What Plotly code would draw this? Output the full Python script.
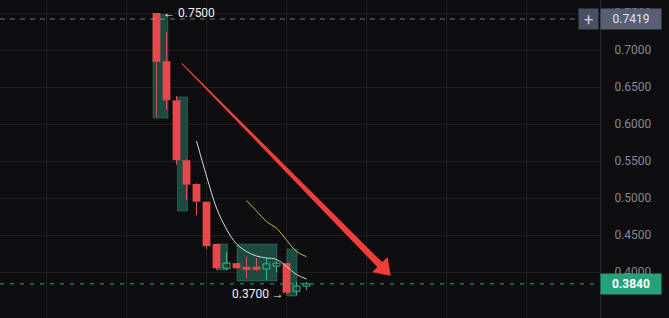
import math
import plotly.graph_objects as go

# ---------------- data ----------------
IDX = list(range(16))
OPEN = [0.750, 0.685, 0.632, 0.551, 0.519, 0.495, 0.438, 0.405, 0.412, 0.407, 0.407, 0.404, 0.408, 0.412, 0.374, 0.381]
HIGH = [0.750, 0.724, 0.638, 0.553, 0.520, 0.495, 0.438, 0.427, 0.412, 0.420, 0.419, 0.419, 0.415, 0.412, 0.3865, 0.3865]
LOW = [0.610, 0.619, 0.545, 0.497, 0.477, 0.431, 0.403, 0.403, 0.405, 0.392, 0.401, 0.389, 0.400, 0.370, 0.369, 0.3757]
CLOSE = [0.684, 0.632, 0.551, 0.518, 0.495, 0.435, 0.405, 0.412, 0.405, 0.403, 0.403, 0.411, 0.412, 0.372, 0.381, 0.384]

# higher-timeframe boxes
BOX_X = [0.4, 2.6, 6.55, 10.05, 13.55]
BOX_W = [1.5, 1.0, 1.1, 4.0, 1.0]
BOX_TOP = [0.748, 0.6365, 0.4378, 0.4378, 0.431]
BOX_BOT = [0.608, 0.4824, 0.4027, 0.3878, 0.3676]

# moving averages
MA_W_X = [4, 5, 6, 7, 8, 9, 10, 11, 12, 13, 14, 15]
MA_W = [0.577, 0.5297, 0.4865, 0.458, 0.438, 0.4277, 0.4216, 0.419, 0.417, 0.4074, 0.3966, 0.3905]
MA_Y_X = [9, 10, 11, 12, 13, 14, 15]
MA_Y = [0.4966, 0.4824, 0.4682, 0.4591, 0.4432, 0.4277, 0.4207]

Y_TICKS = [0.40, 0.45, 0.50, 0.55, 0.60, 0.65, 0.70, 0.75]
HIGH_LABEL = (0, 0.75, "← 0.7500")
LOW_LABEL = (13, 0.37, "0.3700 →")
CROSS_PRICE = 0.7419
LAST_PRICE = 0.384
ARROW_START = (2.52, 0.682)
ARROW_TIP = (23.42, 0.395)

# ---------------- style ----------------
W, H = 669, 318
PLOT_W, PLOT_H = 600, 318
XMIN, XMAX = -15.65, 44.35
YMIN, YMAX = 0.7 - 268 / 740, 0.7 + 50 / 740
BG = "#0d0d0f"
GRID = "#1e1e22"
RED = "#e5484d"
GREEN = "#2ebd85"
BOX_COLOR = "#1c4a40"
FONT = "Roboto, 'Noto Sans', sans-serif"

PXX = PLOT_W / (XMAX - XMIN)
PXY = PLOT_H / (YMAX - YMIN)

fig = go.Figure()

# big translucent boxes
fig.add_trace(go.Bar(
    x=BOX_X, y=[t - b for t, b in zip(BOX_TOP, BOX_BOT)], base=BOX_BOT, width=BOX_W,
    marker=dict(color=BOX_COLOR, line=dict(color="rgba(60,170,130,0.35)", width=1)),
    hoverinfo="skip", showlegend=False))

# wicks
def wick_xy(up):
    xs, ys = [], []
    for i, o, h, l, c in zip(IDX, OPEN, HIGH, LOW, CLOSE):
        if (c >= o) != up:
            continue
        lo, hi = min(o, c), max(o, c)
        xs += [i, i, None, i, i, None]
        ys += [l, lo, None, hi, h, None]
    return xs, ys

for up, col in ((False, RED), (True, GREEN)):
    xs, ys = wick_xy(up)
    fig.add_trace(go.Scatter(x=xs, y=ys, mode="lines", line=dict(color=col, width=1),
                             hoverinfo="skip", showlegend=False))

# bodies
MIN_H = 1.5 / PXY
dn = [i for i in IDX if CLOSE[i] < OPEN[i]]
up = [i for i in IDX if CLOSE[i] >= OPEN[i]]
fig.add_trace(go.Bar(
    x=dn, base=[min(OPEN[i], CLOSE[i]) for i in dn],
    y=[max(abs(OPEN[i] - CLOSE[i]), MIN_H) for i in dn], width=0.78,
    marker=dict(color=RED, line=dict(width=0)), hoverinfo="skip", showlegend=False))
fig.add_trace(go.Bar(
    x=up, base=[min(OPEN[i], CLOSE[i]) for i in up],
    y=[max(abs(OPEN[i] - CLOSE[i]), MIN_H) for i in up], width=0.7,
    marker=dict(color="rgba(0,0,0,0)", line=dict(color=GREEN, width=1)),
    hoverinfo="skip", showlegend=False))

# moving averages
fig.add_trace(go.Scatter(x=MA_W_X, y=MA_W, mode="lines",
                         line=dict(color="#d8d8dc", width=1, shape="spline"),
                         hoverinfo="skip", showlegend=False))
fig.add_trace(go.Scatter(x=MA_Y_X, y=MA_Y, mode="lines",
                         line=dict(color="#cdbb2c", width=1, shape="spline"),
                         hoverinfo="skip", showlegend=False))

# tapered arrow (built in pixel space, converted to data units)
def to_px(x, y):
    return ((x - XMIN) * PXX, (YMAX - y) * PXY)

def to_data(px, py):
    return (XMIN + px / PXX, YMAX - py / PXY)

sx, sy = to_px(*ARROW_START)
tx, ty = to_px(*ARROW_TIP)
L = math.hypot(tx - sx, ty - sy)
ux, uy = (tx - sx) / L, (ty - sy) / L
nx, ny = -uy, ux
HEAD_L, HEAD_HW, SHAFT0, SHAFT1 = 15.5, 10.8, 0.5, 3.4
bx, by = tx - HEAD_L * ux, ty - HEAD_L * uy
pts_px = [
    (sx + SHAFT0 * nx, sy + SHAFT0 * ny),
    (bx + SHAFT1 * nx, by + SHAFT1 * ny),
    (bx + HEAD_HW * nx, by + HEAD_HW * ny),
    (tx, ty),
    (bx - HEAD_HW * nx, by - HEAD_HW * ny),
    (bx - SHAFT1 * nx, by - SHAFT1 * ny),
    (sx - SHAFT0 * nx, sy - SHAFT0 * ny),
]
pts = [to_data(*p) for p in pts_px]
path = "M " + " L ".join(f"{x:.5f},{y:.6f}" for x, y in pts) + " Z"

shapes = [
    dict(type="line", xref="paper", yref="y", x0=0, x1=580 / PLOT_W, y0=CROSS_PRICE, y1=CROSS_PRICE,
         line=dict(color="rgba(190,190,195,0.6)", width=1, dash="5px,5px"), layer="above"),
    dict(type="line", xref="paper", yref="y", x0=0, x1=1, y0=LAST_PRICE, y1=LAST_PRICE,
         line=dict(color="#26a17b", width=1, dash="4px,6px"), layer="above"),
    dict(type="path", xref="x", yref="y", path=path, fillcolor="#ef3e3a",
         line=dict(width=0), layer="above"),
]

annotations = [
    dict(x=HIGH_LABEL[0] + 0.42, y=HIGH_LABEL[1], xref="x", yref="y", text=HIGH_LABEL[2],
         showarrow=False, xanchor="left", yanchor="middle",
         font=dict(family=FONT, size=12, color="#f2f2f2")),
    dict(x=LOW_LABEL[0] - 0.1, y=LOW_LABEL[1], xref="x", yref="y", text=LOW_LABEL[2],
         showarrow=False, xanchor="right", yanchor="middle",
         font=dict(family=FONT, size=12, color="#f2f2f2")),
    dict(x=1, y=CROSS_PRICE, xref="paper", yref="y", text=f"{CROSS_PRICE:.4f}",
         showarrow=False, xanchor="left", yanchor="middle", width=56, height=16, borderpad=2,
         bgcolor="#595f72", font=dict(family=FONT, size=12, color="#dfe2ea")),
    dict(x=1 - 1.5 / PLOT_W, y=CROSS_PRICE, xref="paper", yref="y", text="+",
         showarrow=False, xanchor="right", yanchor="middle", width=15, height=16, borderpad=2,
         bgcolor="#4a5064", font=dict(family=FONT, size=17, color="#c9cdd6")),
    dict(x=1, y=LAST_PRICE, xref="paper", yref="y", text=f"<b>{LAST_PRICE:.4f}</b>",
         showarrow=False, xanchor="left", yanchor="middle", width=56, height=16, borderpad=2,
         bgcolor="#26a17b", font=dict(family=FONT, size=12, color="#ffffff")),
]

fig.update_layout(
    width=W, height=H, margin=dict(l=0, r=W - PLOT_W, t=0, b=0),
    paper_bgcolor=BG, plot_bgcolor=BG, barmode="overlay", showlegend=False,
    shapes=shapes, annotations=annotations,
    xaxis=dict(range=[XMIN, XMAX], showgrid=True, gridcolor=GRID, gridwidth=1,
               tick0=5.02, dtick=8, showticklabels=False, ticks="", zeroline=False,
               showline=False, fixedrange=True),
    yaxis=dict(range=[YMIN, YMAX], side="right", tickvals=Y_TICKS, tickformat=".4f",
               showgrid=True, gridcolor=GRID, gridwidth=1, zeroline=False,
               showline=True, linecolor="#26262b", linewidth=1, ticks="",
               ticklabelstandoff=11, automargin=False,
               tickfont=dict(family=FONT, size=12, color="#85888f"), fixedrange=True),
)

fig.write_html("out.html")
